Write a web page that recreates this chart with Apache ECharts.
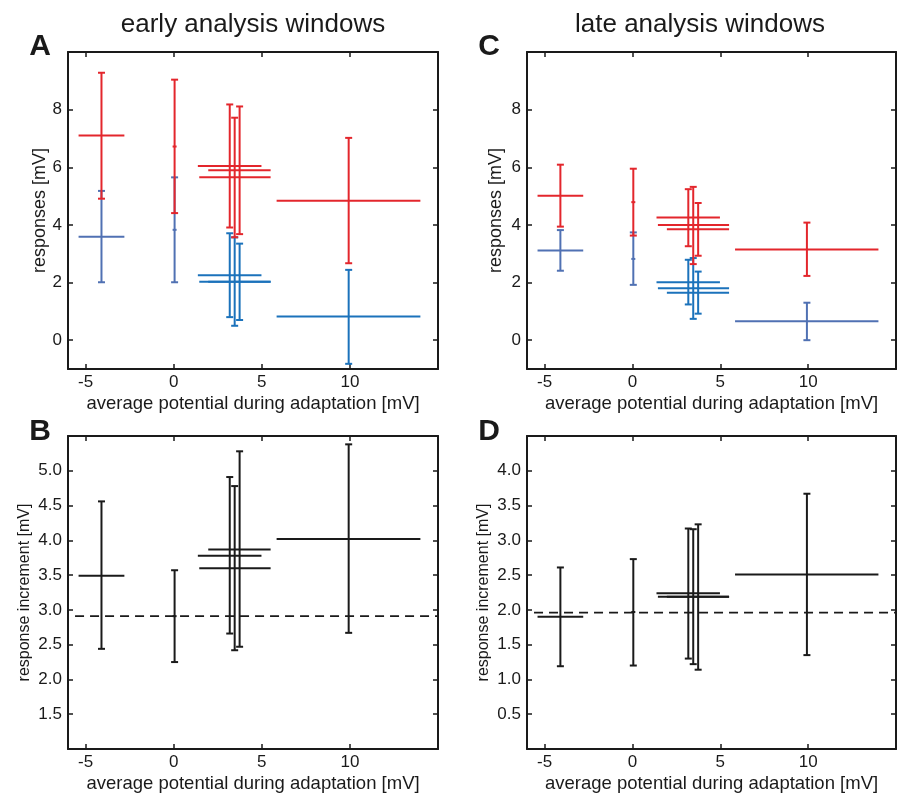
<!DOCTYPE html>
<html lang="en">
<head>
<meta charset="UTF-8">
<title>analysis windows</title>
<script src="https://cdn.jsdelivr.net/npm/echarts@6/dist/echarts.min.js"></script>
<style>
  html, body { margin: 0; padding: 0; background: #fff; }
</style>
</head>
<body>
<div id="main" style="width: 907px;height:794px;"></div>
<script>
    // x position of each point (average potential) and its spread, shared by all panels
    var xMid = [-4.1, 0.05, 3.18, 3.46, 3.74, 9.93];
    var xLo  = [-5.4, 0.05, 1.37, 1.45, 1.96, 5.84];
    var xHi  = [-2.8, 0.05, 4.98, 5.5, 5.5, 14.0];

    // A: early windows, responses
    var earlyRedY   = [7.10, 6.72, 6.04, 5.65, 5.90, 4.84];
    var earlyRedLo  = [4.91, 4.41, 3.91, 3.57, 3.68, 2.67];
    var earlyRedHi  = [9.28, 9.04, 8.18, 7.72, 8.11, 7.02];
    var earlyBlueY  = [3.59, 3.83, 2.25, 2.03, 2.03, 0.82];
    var earlyBlueLo = [2.01, 2.01, 0.80, 0.50, 0.70, -0.82];
    var earlyBlueHi = [5.18, 5.65, 3.71, 3.57, 3.35, 2.44];

    // C: late windows, responses
    var lateRedY   = [5.01, 4.79, 4.26, 4.00, 3.85, 3.15];
    var lateRedLo  = [3.94, 3.63, 3.26, 2.64, 2.93, 2.23];
    var lateRedHi  = [6.09, 5.95, 5.24, 5.32, 4.76, 4.08];
    var lateBlueY  = [3.11, 2.82, 2.01, 1.80, 1.65, 0.66];
    var lateBlueLo = [2.41, 1.92, 1.24, 0.74, 0.92, 0.00];
    var lateBlueHi = [3.82, 3.74, 2.79, 2.85, 2.38, 1.30];

    // B: early increment
    var earlyIncY  = [3.49, 2.91, 3.78, 3.60, 3.87, 4.02];
    var earlyIncLo = [2.44, 2.25, 2.66, 2.42, 2.47, 2.67];
    var earlyIncHi = [4.56, 3.57, 4.91, 4.78, 5.28, 5.38];
    var earlyIncMean = 2.91;

    // D: late increment
    var lateIncY  = [1.90, 1.97, 2.24, 2.19, 2.19, 2.51];
    var lateIncLo = [1.19, 1.20, 1.30, 1.22, 1.14, 1.35];
    var lateIncHi = [2.61, 2.73, 3.17, 3.16, 3.23, 3.67];
    var lateIncMean = 1.96;

    // tick labels
    var xTicks = [-5, 0, 5, 10];
    var respTicks = [0, 2, 4, 6, 8];
    var earlyIncTicks = [1.5, 2.0, 2.5, 3.0, 3.5, 4.0, 4.5, 5.0];
    var lateIncTicks = [0.5, 1.0, 1.5, 2.0, 2.5, 3.0, 3.5, 4.0];

    var FONT = 'Liberation Sans, Arial, Helvetica, sans-serif';
    var RED = '#e3262c', SLATE = '#5071b3', BLUE = '#1b72bb', BLACK = '#1a1a1a';

    function rows(y, lo, hi) {
        var out = [];
        for (var i = 0; i < y.length; i++) {
            out.push([xMid[i], xLo[i], xHi[i], y[i], lo[i], hi[i]]);
        }
        return out;
    }

    function makeRender(colors) {
        return function (params, api) {
            var col = colors[params.dataIndex];
            var x = api.value(0), y = api.value(3);
            var c = api.coord([x, y]);
            var pl = api.coord([api.value(1), y]);
            var ph = api.coord([api.value(2), y]);
            var pt = api.coord([x, api.value(5)]);
            var pb = api.coord([x, api.value(4)]);
            var st = { stroke: col, lineWidth: 2 };
            var cap = 3.5;
            var kids = [
                { type: 'line', shape: { x1: c[0], y1: pt[1], x2: c[0], y2: pb[1] }, style: st },
                { type: 'line', shape: { x1: c[0] - cap, y1: pt[1], x2: c[0] + cap, y2: pt[1] }, style: st },
                { type: 'line', shape: { x1: c[0] - cap, y1: pb[1], x2: c[0] + cap, y2: pb[1] }, style: st }
            ];
            if (ph[0] - pl[0] > 2) {
                kids.push({ type: 'line', shape: { x1: pl[0], y1: c[1], x2: ph[0], y2: c[1] }, style: st });
            } else {
                kids.push({ type: 'line', shape: { x1: c[0] - 2, y1: c[1], x2: c[0] + 2, y2: c[1] }, style: st });
            }
            return { type: 'group', children: kids };
        };
    }

    function fill(n, col) {
        var a = [];
        for (var i = 0; i < n; i++) a.push(col);
        return a;
    }

    var grids = [
        { left: 68, top: 52, width: 370, height: 317 },
        { left: 68, top: 436, width: 370, height: 317 },
        { left: 527, top: 52, width: 369, height: 317 },
        { left: 527, top: 436, width: 369, height: 317 }
    ];

    var axisLineStyle = { show: true, onZero: false, lineStyle: { color: BLACK, width: 2 } };
    var tickStyle = { color: BLACK, width: 1.5 };

    var xAxes = [], yAxes = [];
    var yCfg = [
        { min: -1, max: 10, ticks: respTicks, name: 'responses [mV]', size: 18, gap: 12, fmt: function (v) { return String(v); } },
        { min: 1, max: 5.5, ticks: earlyIncTicks, name: 'response increment [mV]', size: 16, gap: 35, fmt: function (v) { return v.toFixed(1); } },
        { min: -1, max: 10, ticks: respTicks, name: 'responses [mV]', size: 18, gap: 22, fmt: function (v) { return String(v); } },
        { min: 0, max: 4.5, ticks: lateIncTicks, name: 'response increment [mV]', size: 16, gap: 35, fmt: function (v) { return v.toFixed(1); } }
    ];
    for (var g = 0; g < 4; g++) {
        xAxes.push({
            type: 'value', gridIndex: g, min: -6, max: 15, position: 'bottom',
            name: 'average potential during adaptation [mV]', nameLocation: 'middle', nameGap: 25,
            nameTextStyle: { fontFamily: FONT, fontSize: 18.5, color: BLACK },
            axisLine: axisLineStyle, splitLine: { show: false },
            axisTick: { inside: true, length: 5, lineStyle: tickStyle, customValues: xTicks },
            axisLabel: { fontFamily: FONT, fontSize: 17, color: BLACK, margin: 5, customValues: xTicks }
        });
        xAxes.push({
            type: 'value', gridIndex: g, min: -6, max: 15, position: 'top',
            axisLine: axisLineStyle, splitLine: { show: false },
            axisTick: { inside: true, length: 5, lineStyle: tickStyle, customValues: xTicks },
            axisLabel: { show: false }
        });
        var yc = yCfg[g];
        yAxes.push({
            type: 'value', gridIndex: g, min: yc.min, max: yc.max, position: 'left',
            name: yc.name, nameLocation: 'middle', nameGap: yc.gap, nameRotate: 90,
            nameTextStyle: { fontFamily: FONT, fontSize: yc.size, color: BLACK },
            axisLine: axisLineStyle, splitLine: { show: false },
            axisTick: { inside: true, length: 5, lineStyle: tickStyle, customValues: yc.ticks },
            axisLabel: { fontFamily: FONT, fontSize: 17, color: BLACK, margin: 6, customValues: yc.ticks, formatter: yc.fmt }
        });
        yAxes.push({
            type: 'value', gridIndex: g, min: yc.min, max: yc.max, position: 'right',
            axisLine: axisLineStyle, splitLine: { show: false },
            axisTick: { inside: true, length: 5, lineStyle: tickStyle, customValues: yc.ticks },
            axisLabel: { show: false }
        });
    }

    function errSeries(g, data, colors) {
        return {
            type: 'custom', xAxisIndex: g * 2, yAxisIndex: g * 2, data: data,
            renderItem: makeRender(colors), encode: { x: [0, 1, 2], y: [3, 4, 5] },
            silent: true, clip: true
        };
    }
    function meanSeries(g, v) {
        return {
            type: 'line', xAxisIndex: g * 2, yAxisIndex: g * 2, data: [[-5.6, v], [15, v]],
            symbol: 'none', silent: true,
            lineStyle: { color: BLACK, width: 1.8, type: [9, 6] }
        };
    }

    var earlyBlueCols = [SLATE, SLATE, BLUE, BLUE, BLUE, BLUE];
    var lateBlueCols = [SLATE, SLATE, BLUE, BLUE, BLUE, SLATE];

    var series = [
        errSeries(0, rows(earlyBlueY, earlyBlueLo, earlyBlueHi), earlyBlueCols),
        errSeries(0, rows(earlyRedY, earlyRedLo, earlyRedHi), fill(6, RED)),
        meanSeries(1, earlyIncMean),
        errSeries(1, rows(earlyIncY, earlyIncLo, earlyIncHi), fill(6, BLACK)),
        errSeries(2, rows(lateBlueY, lateBlueLo, lateBlueHi), lateBlueCols),
        errSeries(2, rows(lateRedY, lateRedLo, lateRedHi), fill(6, RED)),
        meanSeries(3, lateIncMean),
        errSeries(3, rows(lateIncY, lateIncLo, lateIncHi), fill(6, BLACK))
    ];

    var textStyle = function (txt, size, bold) {
        return { text: txt, fontFamily: FONT, fontSize: size, fontWeight: bold ? 'bold' : 'normal',
                 fill: BLACK, align: 'center', verticalAlign: 'middle' };
    };

    var myChart = echarts.init(document.getElementById('main'));
    myChart.setOption({
        animation: false,
        grid: grids,
        xAxis: xAxes,
        yAxis: yAxes,
        series: series,
        graphic: [
            { type: 'text', x: 253, y: 25, style: textStyle('early analysis windows', 26, false) },
            { type: 'text', x: 700, y: 25, style: textStyle('late analysis windows', 26, false) },
            { type: 'text', x: 40, y: 47, style: textStyle('A', 30, true) },
            { type: 'text', x: 40, y: 432, style: textStyle('B', 30, true) },
            { type: 'text', x: 489, y: 47, style: textStyle('C', 30, true) },
            { type: 'text', x: 489, y: 432, style: textStyle('D', 30, true) }
        ]
    });
</script>
</body>
</html>
